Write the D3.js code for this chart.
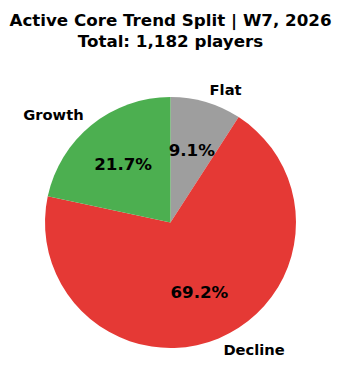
<!DOCTYPE html>
<html>
<head>
<meta charset="utf-8">
<script src="https://cdn.jsdelivr.net/npm/d3@7"></script>
<style>
  body { margin: 0; background: #fff; }
  svg { display: block; font-family: "DejaVu Sans", sans-serif; }
</style>
</head>
<body>
<svg width="341" height="390"></svg>
<script>
// slice data, clockwise from 12 o'clock
const categories = ['Flat', 'Decline', 'Growth'];
const players = [108, 818, 256];
const colors = ['#9e9e9e', '#e53935', '#4caf50'];
const titleLines = ['Active Core Trend Split | W7, 2026', 'Total: 1,182 players'];

const svg = d3.select('svg');
const cx = 170.5, cy = 222.5, r = 125.5;

const total = d3.sum(players);
const data = categories.map((c, i) => ({ name: c, value: players[i], color: colors[i] }));

const pie = d3.pie().value(d => d.value).sort(null);
const arc = d3.arc().innerRadius(0).outerRadius(r);
const arcs = pie(data);

const g = svg.append('g').attr('transform', `translate(${cx},${cy})`);

g.selectAll('path')
  .data(arcs)
  .join('path')
    .attr('d', arc)
    .attr('fill', d => d.data.color);

// position helper: fraction of radius at the slice mid angle
const at = (d, f) => {
  const a = (d.startAngle + d.endAngle) / 2;
  return [Math.sin(a) * r * f, -Math.cos(a) * r * f];
};

// category labels (labeldistance 1.1)
g.selectAll('text.cat')
  .data(arcs)
  .join('text')
    .attr('class', 'cat')
    .attr('x', d => at(d, 1.1)[0])
    .attr('y', d => at(d, 1.1)[1])
    .attr('dy', '0.35em')
    .attr('text-anchor', d => at(d, 1.1)[0] >= 0 ? 'start' : 'end')
    .style('font-size', '14.7px')
    .style('font-weight', 'bold')
    .text(d => d.data.name);

// percent labels (pctdistance 0.6)
g.selectAll('text.pct')
  .data(arcs)
  .join('text')
    .attr('class', 'pct')
    .attr('x', d => at(d, 0.6)[0])
    .attr('y', d => at(d, 0.6)[1])
    .attr('dy', '0.35em')
    .attr('text-anchor', 'middle')
    .style('font-size', '16.7px')
    .style('font-weight', 'bold')
    .text(d => (d.value / total * 100).toFixed(1) + '%');

svg.append('text')
  .attr('x', cx)
  .attr('y', 26)
  .attr('text-anchor', 'middle')
  .style('font-size', '16.7px')
  .style('font-weight', 'bold')
  .selectAll('tspan')
  .data(titleLines)
  .join('tspan')
    .attr('x', cx)
    .attr('dy', (d, i) => i === 0 ? 0 : 21)
    .text(d => d);
</script>
</body>
</html>
